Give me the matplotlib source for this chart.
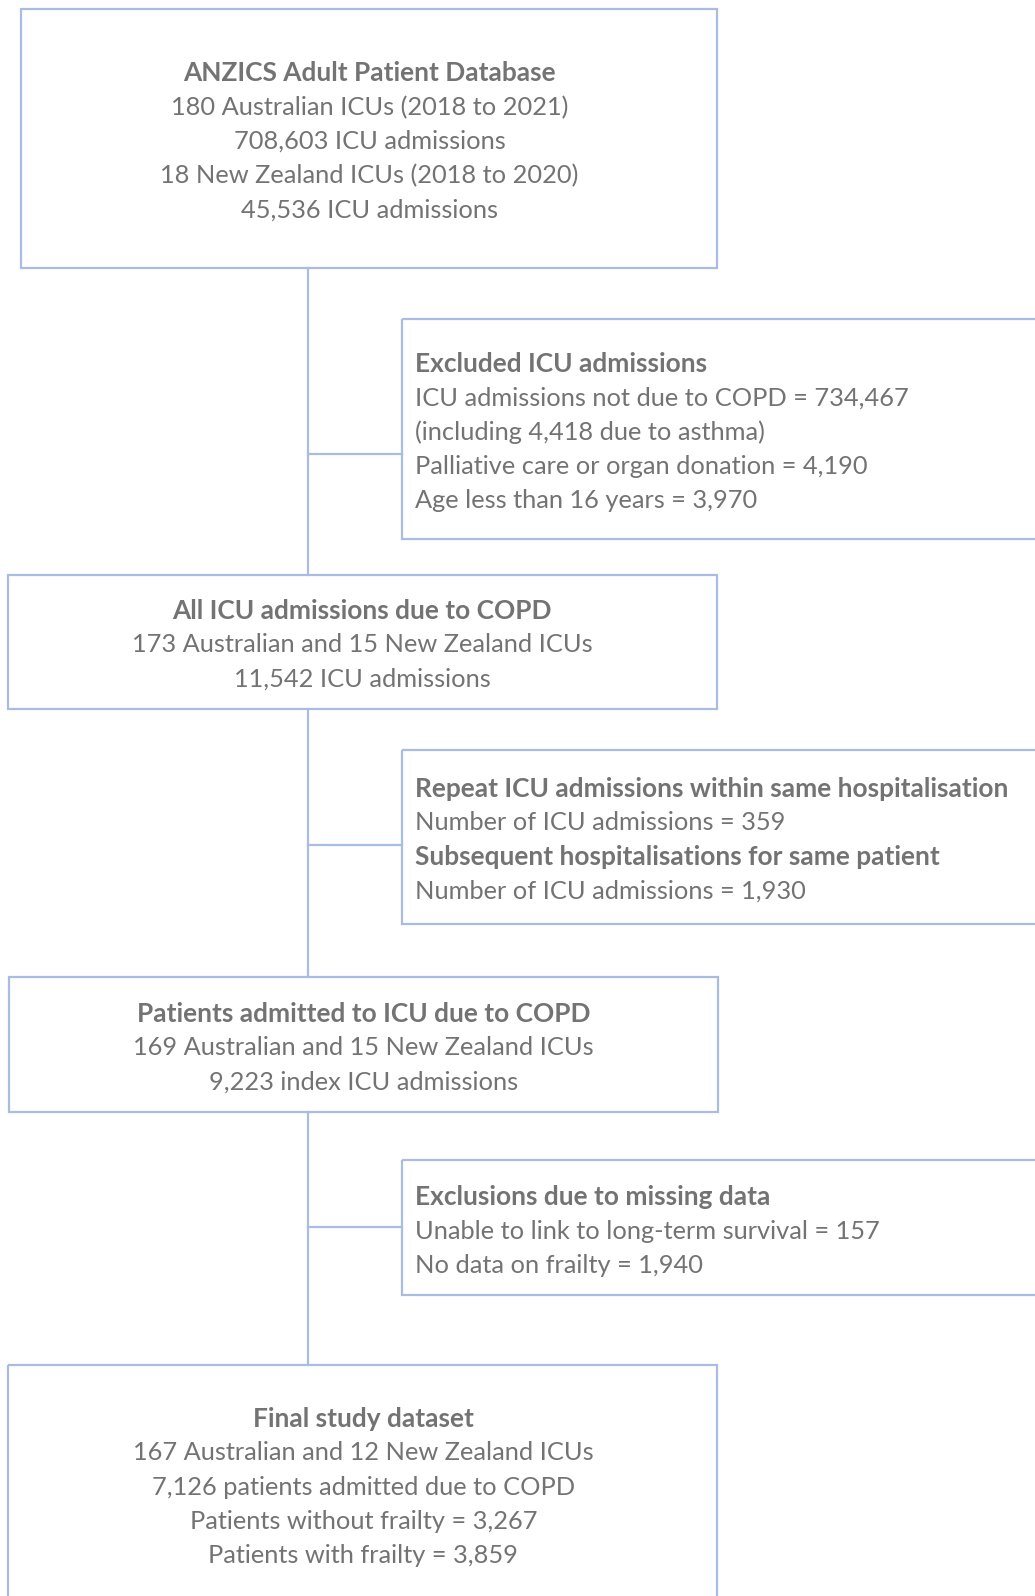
import matplotlib
matplotlib.use("Agg")
import matplotlib.pyplot as plt
from matplotlib.patches import Rectangle

# box contents
main_titles = ["ANZICS Adult Patient Database",
               "All ICU admissions due to COPD",
               "Patients admitted to ICU due to COPD",
               "Final study dataset"]
main_lines = [["180 Australian ICUs (2018 to 2021)", "708,603 ICU admissions",
               "18 New Zealand ICUs (2018 to 2020)", "45,536 ICU admissions"],
              ["173 Australian and 15 New Zealand ICUs", "11,542 ICU admissions"],
              ["169 Australian and 15 New Zealand ICUs", "9,223 index ICU admissions"],
              ["167 Australian and 12 New Zealand ICUs", "7,126 patients admitted due to COPD",
               "Patients without frailty = 3,267", "Patients with frailty = 3,859"]]

# (bold?, text) for the exclusion boxes
side_lines = [[(True, "Excluded ICU admissions"),
               (False, "ICU admissions not due to COPD = 734,467"),
               (False, "(including 4,418 due to asthma)"),
               (False, "Palliative care or organ donation = 4,190"),
               (False, "Age less than 16 years = 3,970")],
              [(True, "Repeat ICU admissions within same hospitalisation"),
               (False, "Number of ICU admissions = 359"),
               (True, "Subsequent hospitalisations for same patient"),
               (False, "Number of ICU admissions = 1,930")],
              [(True, "Exclusions due to missing data"),
               (False, "Unable to link to long-term survival = 157"),
               (False, "No data on frailty = 1,940")]]

# layout (units = reference px at 1017 wide view)
main_boxes = [(21, 9, 705, 263), (8, 565, 705, 697), (9, 960, 706, 1092), (8, 1341, 705, 1600)]
main_text_x = [363, 356, 357, 357]
main_text_y0 = [72, 600, 996, 1394]
side_boxes = [(395, 313, 1040, 530), (395, 737, 1040, 908), (395, 1140, 1040, 1272)]
side_text_x = 408
side_text_y0 = [358, 775, 1176]
branch_y = [446, 830, 1205]
line_step = 33.5
spine_x = 303

line_col = "#a9bde2"
text_col = "#737373"
fs = 18.3
fs_bold = 18.9

plt.rcParams['font.family'] = ['Lato', 'DejaVu Sans']

fig = plt.figure(figsize=(10.35, 15.96), dpi=100)
ax = fig.add_axes([0, 0, 1, 1])
ax.set_xlim(0, 1017)
ax.set_ylim(1568, 0)
ax.axis("off")

# connectors
for i in range(3):
    ax.plot([spine_x, spine_x], [main_boxes[i][3], main_boxes[i + 1][1]], color=line_col, lw=1.6)
    ax.plot([spine_x, side_boxes[i][0]], [branch_y[i], branch_y[i]], color=line_col, lw=1.6)

for (x0, y0, x1, y1) in main_boxes + side_boxes:
    ax.add_patch(Rectangle((x0, y0), x1 - x0, y1 - y0, fill=False,
                           edgecolor=line_col, lw=1.6))

for i, title in enumerate(main_titles):
    ax.text(main_text_x[i], main_text_y0[i], title, ha="center", va="center",
            fontsize=fs_bold, fontweight="bold", color=text_col)
    for j, s in enumerate(main_lines[i]):
        ax.text(main_text_x[i], main_text_y0[i] + (j + 1) * line_step, s,
                ha="center", va="center", fontsize=fs, color=text_col)

for i, lines in enumerate(side_lines):
    for j, (bold, s) in enumerate(lines):
        ax.text(side_text_x, side_text_y0[i] + j * line_step, s, ha="left", va="center",
                fontsize=fs_bold if bold else fs,
                fontweight="bold" if bold else "normal", color=text_col)

fig.savefig("out.png", dpi=100)
